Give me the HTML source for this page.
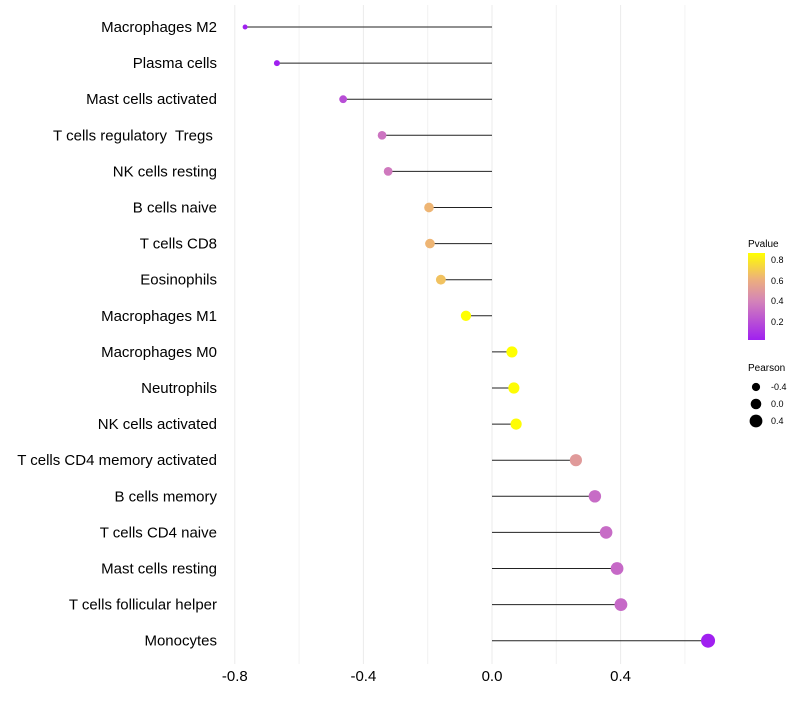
<!DOCTYPE html>
<html><head><meta charset="utf-8"><style>
body{margin:0;background:#fff;font-family:"Liberation Sans",sans-serif;}
text{white-space:pre;}
</style></head><body>
<svg id="chart" width="800" height="700" xmlns="http://www.w3.org/2000/svg">
<defs><linearGradient id="pg" x1="0" y1="1" x2="0" y2="0">
<stop offset="0" stop-color="#A020F0"/><stop offset="0.45" stop-color="#D484B8"/><stop offset="0.7" stop-color="#EDB07C"/><stop offset="1" stop-color="#FFFF00"/></linearGradient></defs>
<g id="grid"></g><g id="marks"></g><g id="labels"></g>
<g font-size="9" fill="#000">
<text x="748" y="247" font-size="10">Pvalue</text>
<rect x="748" y="253" width="17" height="87" fill="url(#pg)"/>
<text x="771" y="263">0.8</text><text x="771" y="284">0.6</text><text x="771" y="304">0.4</text><text x="771" y="325">0.2</text>
</g>
<g font-size="9">
<text x="748" y="371" font-size="10">Pearson</text>
<circle cx="756" cy="387" r="4.1"/><text x="771" y="390">-0.4</text>
<circle cx="756" cy="404" r="5.3"/><text x="771" y="407">0.0</text>
<circle cx="756" cy="421" r="6.4"/><text x="771" y="424">0.4</text>
</g>
</svg>
<script>
const categories=["Macrophages M2","Plasma cells","Mast cells activated","T cells regulatory  Tregs ","NK cells resting","B cells naive","T cells CD8","Eosinophils","Macrophages M1","Macrophages M0","Neutrophils","NK cells activated","T cells CD4 memory activated","B cells memory","T cells CD4 naive","Mast cells resting","T cells follicular helper","Monocytes"];
const pearson=[-0.768,-0.669,-0.463,-0.342,-0.323,-0.196,-0.193,-0.159,-0.081,0.062,0.068,0.075,0.261,0.320,0.355,0.389,0.401,0.672];
const pvalue=[0.01,0.02,0.22,0.36,0.38,0.64,0.64,0.68,0.87,0.87,0.86,0.86,0.52,0.33,0.33,0.32,0.32,0.03];
const xTicks=[-0.8,-0.4,0.0,0.4];
const xMinor=[-0.6,-0.2,0.2,0.6];
const NS="http://www.w3.org/2000/svg";
const x=v=>492+v*321.5;
const y=i=>27+i*36.1;
const r=v=>Math.sqrt(6+29.9*(v+0.77));
const stops=[[0,[160,32,240]],[0.45,[212,132,184]],[0.7,[237,176,124]],[1,[255,255,0]]];
function col(p){let t=Math.max(0,Math.min(1,(p-0.05)/0.82));for(let k=1;k<stops.length;k++){if(t<=stops[k][0]){const a=stops[k-1],b=stops[k];const f=(t-a[0])/(b[0]-a[0]);return "rgb("+a[1].map((c,j)=>Math.round(c+(b[1][j]-c)*f)).join(",")+")";}}return "rgb(255,255,0)";}
function mk(tag,at,parent){const e=document.createElementNS(NS,tag);for(const k in at)e.setAttribute(k,at[k]);document.getElementById(parent).appendChild(e);return e;}
xMinor.forEach(v=>{const l=mk("line",{x1:x(v),x2:x(v),y1:5,y2:664,stroke:"#f2f2f2","stroke-width":1},"grid");

});
xTicks.forEach(v=>{const l=mk("line",{x1:x(v),x2:x(v),y1:5,y2:664,stroke:"#ebebeb","stroke-width":1},"grid");


const t=mk("text",{x:x(v),y:681,"text-anchor":"middle","font-size":"15",fill:"#000"},"labels");t.textContent=v.toFixed(1);

});
categories.forEach((c,i)=>{
const t=mk("text",{x:217,y:y(i)+5,"text-anchor":"end","font-size":"15",fill:"#000",style:"white-space:pre"},"labels");t.textContent=c;


const s=mk("line",{x1:x(0),x2:x(pearson[i]),y1:y(i),y2:y(i),stroke:"#222","stroke-width":1},"marks");


const d=mk("circle",{cx:x(pearson[i]),cy:y(i),r:r(pearson[i]),fill:col(pvalue[i])},"marks");


});
</script>
</body></html>
